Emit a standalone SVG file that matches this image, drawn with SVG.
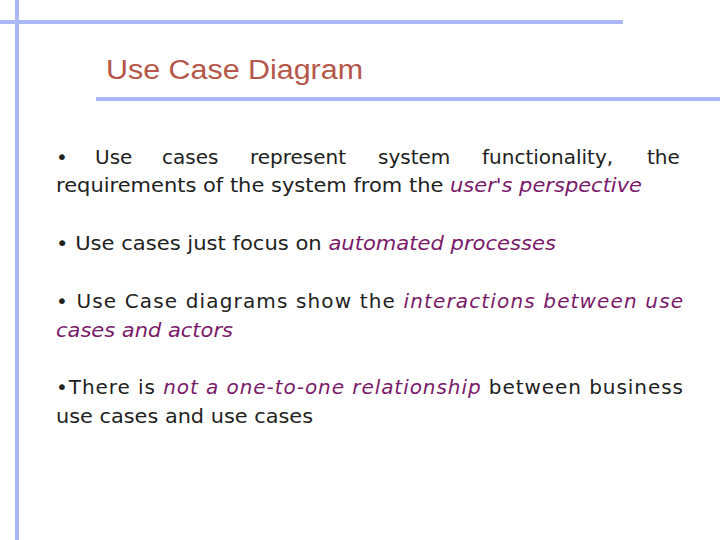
<svg xmlns="http://www.w3.org/2000/svg" width="720" height="540" viewBox="0 0 720 540">
<style>
.b{font-family:"DejaVu Sans","Liberation Sans",sans-serif;font-size:20px;fill:#222}
.i{font-style:italic;fill:#7a1a6a}
.r{stroke:#aab8f5;stroke-width:4}
</style>
<rect width="720" height="540" fill="#fff"/>
<line class="r" x1="17" y1="0" x2="17" y2="540"/>
<line class="r" x1="0" y1="22" x2="623" y2="22"/>
<line class="r" x1="96" y1="99" x2="720" y2="99"/>
<text x="106" y="79" font-family="'Liberation Sans',sans-serif" font-size="27" textLength="257" lengthAdjust="spacingAndGlyphs" fill="#b5574a">Use Case Diagram</text>
<text class="b" y="164"><tspan x="56">•</tspan><tspan x="95">Use</tspan><tspan x="162">cases</tspan><tspan x="250">represent</tspan><tspan x="378">system</tspan><tspan x="482">functionality,</tspan><tspan x="647">the</tspan></text>
<text class="b" x="56" y="192" textLength="586" lengthAdjust="spacingAndGlyphs">requirements of the system from the <tspan class="i">user's perspective</tspan></text>
<text class="b" x="56" y="250" textLength="500" lengthAdjust="spacingAndGlyphs">• Use cases just focus on <tspan class="i">automated processes</tspan></text>
<text class="b" x="56" y="308" textLength="627" lengthAdjust="spacing">•  Use  Case  diagrams  show  the  <tspan class="i">interactions  between  use</tspan></text>
<text class="b" x="56" y="337" textLength="177" lengthAdjust="spacingAndGlyphs"><tspan class="i">cases and actors</tspan></text>
<text class="b" x="56" y="394" textLength="627" lengthAdjust="spacing">•There  is  <tspan class="i">not  a  one-to-one  relationship</tspan>  between  business</text>
<text class="b" x="56" y="423" textLength="257" lengthAdjust="spacingAndGlyphs">use cases and use cases</text>
</svg>
